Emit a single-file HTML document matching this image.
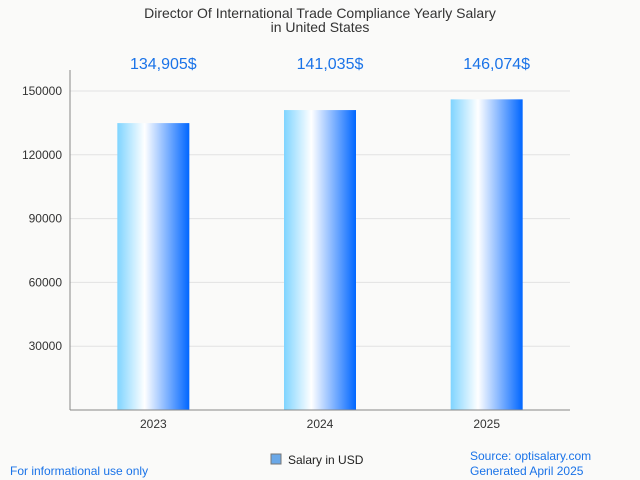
<!DOCTYPE html>
<html><head><meta charset="utf-8"><style>
body{margin:0;background:#fafaf9;font-family:"Liberation Sans",sans-serif;}
svg{display:block}
</style></head><body>
<svg id="c" width="640" height="480" viewBox="0 0 640 480">
<defs><linearGradient id="g" x1="0" x2="1" y1="0" y2="0">
<stop offset="0" stop-color="#7fd4ff"/><stop offset="0.38" stop-color="#ffffff"/><stop offset="1" stop-color="#0066ff"/>
</linearGradient></defs>
<rect width="640" height="480" fill="#fafaf9"/>
<text x="320" y="18" text-anchor="middle" font-size="14" fill="#333">Director Of International Trade Compliance Yearly Salary</text>
<text x="320" y="32" text-anchor="middle" font-size="14" fill="#333">in United States</text>
<g id="grid"></g><g id="bars"></g>
<line x1="70" y1="70" x2="70" y2="410" stroke="#888"/>
<line x1="70" y1="410" x2="570" y2="410" stroke="#888"/>
<rect x="271" y="454" width="10" height="10" fill="#6aa8e8" stroke="#777"/>
<text x="288" y="464" font-size="12" fill="#222">Salary in USD</text>
<text x="10" y="475" font-size="12" fill="#1a73e8">For informational use only</text>
<text x="470" y="460" font-size="12" fill="#1a73e8">Source: optisalary.com</text>
<text x="470" y="475" font-size="12" fill="#1a73e8">Generated April 2025</text>
</svg>
<script>
const categories=["2023","2024","2025"];
const values=[134905,141035,146074];
const valueLabels=["134,905$","141,035$","146,074$"];
const yTicks=[30000,60000,90000,120000,150000];
const NS="http://www.w3.org/2000/svg";
const x0=70,x1=570,yb=410,yt=91,ymax=150000;
function y(v){return yb-(v/ymax)*(yb-yt);}
function xc(i){return x0+(i+0.5)*(x1-x0)/categories.length;}
function mk(t,a,p){const e=document.createElementNS(NS,t);for(const k in a)e.setAttribute(k,a[k]);p.appendChild(e);return e;}
const grid=document.getElementById('grid'),bars=document.getElementById('bars');
yTicks.forEach(v=>{
 const l=mk('line',{x1:x0,x2:x1,y1:y(v),y2:y(v),stroke:'#e2e2e2'},grid);
 
 
 const t=mk('text',{x:62,y:y(v)+4,'text-anchor':'end','font-size':12,fill:'#333'},grid);t.textContent=v;
 
 
});
categories.forEach((c,i)=>{
 const w=72;
 const r=mk('rect',{x:xc(i)-w/2,y:y(values[i]),width:w,height:yb-y(values[i]),fill:'url(#g)'},bars);
 
 
 const t=mk('text',{x:xc(i),y:428,'text-anchor':'middle','font-size':12,fill:'#333'},bars);t.textContent=c;
 
 
 const v=mk('text',{x:xc(i)+10,y:69,'text-anchor':'middle','font-size':16,fill:'#1a73e8'},bars);v.textContent=valueLabels[i];
 
 
});
</script>
</body></html>
